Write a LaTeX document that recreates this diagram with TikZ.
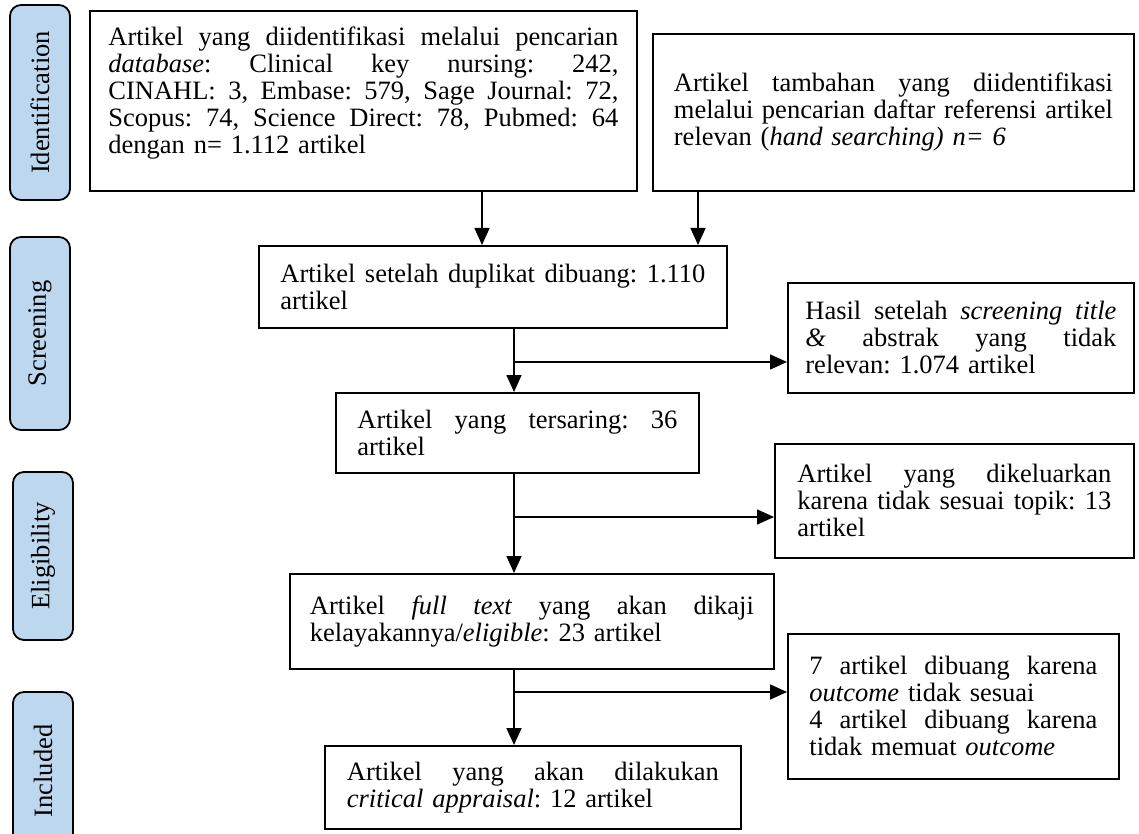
\documentclass[tikz,border=0pt]{standalone}
\usepackage{fontspec}
\setmainfont{Liberation Serif}
\usetikzlibrary{arrows.meta}
\definecolor{phasecol}{RGB}{189,215,238}
\newcommand{\jline}[2]{{\spaceskip=0pt\xspaceskip=0pt\makebox[#1][s]{#2}}}
\begin{document}
\begin{tikzpicture}[x=1pt,y=1pt,
  box/.style={draw, line width=1.8pt, anchor=north west, align=left, inner ysep=0pt,
    font=\fontsize{26.5}{27}\selectfont\frenchspacing},
  phase/.style={draw, line width=1.8pt, fill=phasecol, rounded corners=11pt, rotate=90,
    inner sep=0pt, minimum height=60pt, font=\fontsize{26.5}{29}\selectfont},
  arr/.style={line width=1.6pt, -{Triangle[length=17pt,width=15pt]}}]
\useasboundingbox (0,0) rectangle (1139,-834);
\clip (0,0) rectangle (1139,-834);
% phase labels
\node[phase, minimum width=195pt] (p1) at (40,-102.5) {Identification};
\node[phase, minimum width=193pt] (p2) at (40,-333.5) {Screening};
\node[phase, minimum width=168pt] (p3) at (43,-556) {Eligibility};
\node[phase, minimum width=158pt] (p4) at (43,-771) {Included};
% boxes
\node[box, text width=510pt, inner xsep=18.5pt, minimum height=180pt] (b1) at (89,-10) {%
\jline{510pt}{Artikel yang diidentifikasi melalui pencarian}\\
\jline{510pt}{\textit{database}: Clinical key nursing: 242,}\\
\jline{510pt}{CINAHL: 3, Embase: 579, Sage Journal: 72,}\\
\jline{510pt}{Scopus: 74, Science Direct: 78, Pubmed: 64}\\
dengan n= 1.112 artikel\\[-6pt]\mbox{}};
\node[box, text width=439pt, inner xsep=21pt, minimum height=157pt] (b2) at (652,-33) {%
\jline{439pt}{Artikel tambahan yang diidentifikasi}\\
\jline{439pt}{melalui pencarian daftar referensi artikel}\\
relevan (\textit{hand searching) n= 6}};
\node[box, text width=425pt, inner xsep=21.5pt, minimum height=82pt] (b3) at (258,-245) {%
\jline{425pt}{Artikel setelah duplikat dibuang: 1.110}\\
artikel};
\node[box, text width=311pt, inner xsep=17.5pt, minimum height=110pt] (h) at (787,-282) {%
\jline{311pt}{Hasil setelah \textit{screening title}}\\
\jline{311pt}{\textit{\&} abstrak yang tidak}\\
relevan: 1.074 artikel};
\node[box, text width=320pt, inner xsep=21.5pt, minimum height=80pt] (b4) at (335,-392) {%
\jline{320pt}{Artikel yang tersaring: 36}\\
artikel};
\node[box, text width=314pt, inner xsep=22.5pt, minimum height=114pt] (d) at (774,-443) {%
\jline{314pt}{Artikel yang dikeluarkan}\\
\jline{314pt}{karena tidak sesuai topik: 13}\\
artikel};
\node[box, text width=444pt, inner xsep=20pt, minimum height=95pt] (b5) at (289,-573) {%
\jline{444pt}{Artikel \textit{full text} yang akan dikaji}\\
kelayakannya/\textit{eligible}: 23 artikel};
\node[box, text width=288pt, inner xsep=21.5pt, minimum height=145pt] (s) at (787,-633) {%
\jline{288pt}{7 artikel dibuang karena}\\
\textit{outcome} tidak sesuai\\
\jline{288pt}{4 artikel dibuang karena}\\
tidak memuat \textit{outcome}};
\node[box, text width=372pt, inner xsep=22pt, minimum height=83pt] (b6) at (324,-745) {%
\jline{372pt}{Artikel yang akan dilakukan}\\
\textit{critical appraisal}: 12 artikel};
% connectors
\coordinate (a1) at (482,0);
\coordinate (a2) at (698,0);
\coordinate (tx) at (514,0);
\coordinate (j1) at (514,-362);
\coordinate (j2) at (514,-517);
\coordinate (j3) at (514,-692);
\draw[arr] (b1.south -| a1) -- (b3.north -| a1);
\draw[arr] (b2.south -| a2) -- (b3.north -| a2);
\draw[arr] (b3.south -| tx) -- (b4.north -| tx);
\draw[arr] (j1) -- (j1 -| h.west);
\draw[arr] (b4.south -| tx) -- (b5.north -| tx);
\draw[arr] (j2) -- (j2 -| d.west);
\draw[arr] (b5.south -| tx) -- (b6.north -| tx);
\draw[arr] (j3) -- (j3 -| s.west);
\end{tikzpicture}
\end{document}
